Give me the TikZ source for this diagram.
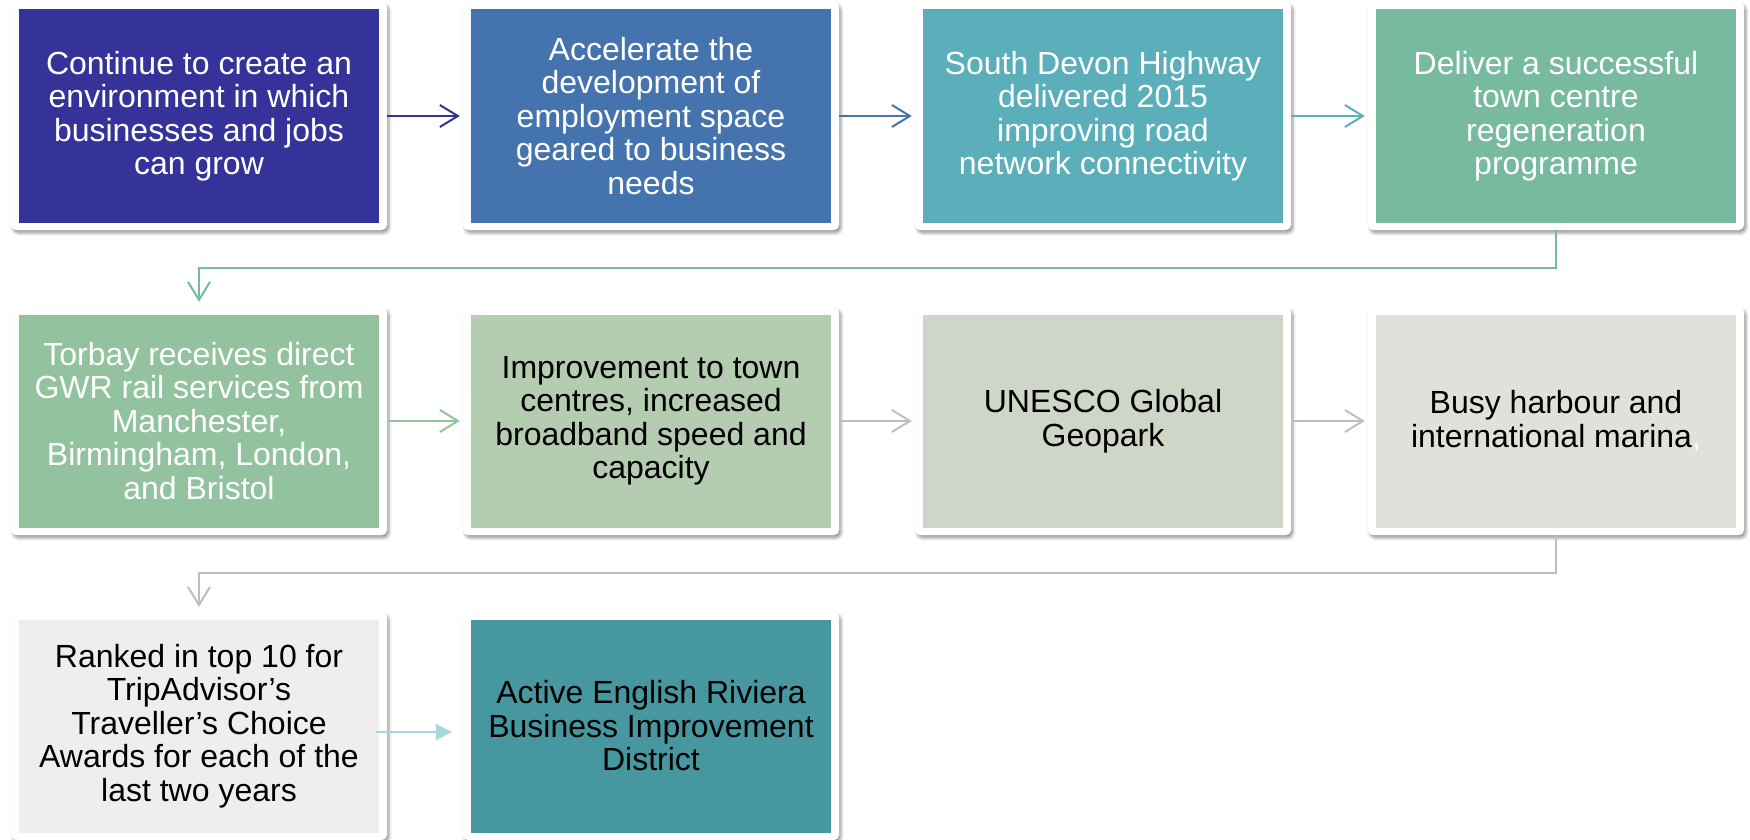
\documentclass[tikz,border=0pt]{standalone}
\usepackage{fontspec}
\setmainfont{Liberation Sans}
\usetikzlibrary{arrows.meta,shadows.blur}

% panel fills
\definecolor{pA}{HTML}{35339A}
\definecolor{pB}{HTML}{4473AE}
\definecolor{pC}{HTML}{5AAFBA}
\definecolor{pD}{HTML}{78BAA0}
\definecolor{pE}{HTML}{93C39E}
\definecolor{pF}{HTML}{B4CCAF}
\definecolor{pG}{HTML}{CFD6C7}
\definecolor{pH}{HTML}{E1E1DB}
\definecolor{pI}{HTML}{EFEEED}
\definecolor{pJ}{HTML}{46979F}
% connector colours
\definecolor{lnGray}{HTML}{BFBFBF}
\definecolor{lnSky}{HTML}{A8D8DE}

\begin{document}
\begin{tikzpicture}[x=1pt,y=-1pt,
  card/.style={fill=white, rounded corners=5pt, minimum width=376pt,
    minimum height=228pt, inner sep=0pt,
    blur shadow={shadow xshift=2pt, shadow yshift=-3pt,
      shadow blur radius=3pt, shadow opacity=40}},
  panel/.style={minimum width=360pt, minimum height=213pt, inner sep=0pt,
    align=center, font=\fontsize{32}{33.5}\selectfont},
  link/.style={line width=2pt, shorten >=3pt,
    -{Straight Barb[length=18pt,width=22pt,line width=2pt]}},
  drop/.style={line width=2pt, shorten >=5pt,
    -{Straight Barb[length=18pt,width=22pt,line width=2pt]}},
  solid link/.style={line width=2pt,
    -{Triangle[length=16pt,width=16pt]}}
]
\useasboundingbox (0,0) rectangle (1750,840);

% ---- row 1 ----
\node[card] (f11) at (199,116) {};
\node[panel, fill=pA, text=white] (p11) at (199,116)
  {Continue to create an\\environment in which\\businesses and jobs\\can grow};
\node[card] (f12) at (651,116) {};
\node[panel, fill=pB, text=white] (p12) at (651,116)
  {Accelerate the\\development of\\employment space\\geared to business\\needs};
\node[card] (f13) at (1103,116) {};
\node[panel, fill=pC, text=white] (p13) at (1103,116)
  {South Devon Highway\\delivered 2015\\improving road\\network connectivity};
\node[card] (f14) at (1556,116) {};
\node[panel, fill=pD, text=white] (p14) at (1556,116)
  {Deliver a successful\\town centre\\regeneration\\programme};

% ---- row 2 ----
\node[card] (f21) at (199,421) {};
\node[panel, fill=pE, text=white] (p21) at (199,421)
  {Torbay receives direct\\GWR rail services from\\Manchester,\\Birmingham, London,\\and Bristol};
\node[card] (f22) at (651,421) {};
\node[panel, fill=pF, text=black] (p22) at (651,421)
  {Improvement to town\\centres, increased\\broadband speed and\\capacity};
\node[card] (f23) at (1103,421) {};
\node[panel, fill=pG, text=black] (p23) at (1103,421)
  {UNESCO Global\\Geopark};
\node[card] (f24) at (1556,421) {};
\node[panel, fill=pH, text=black] (p24) at (1556,421)
  {Busy harbour and\\international marina\textcolor{white}{,}};

% ---- row 3 ----
\node[card] (f31) at (199,726) {};
\node[panel, fill=pI, text=black] (p31) at (199,726)
  {Ranked in top 10 for\\TripAdvisor’s\\Traveller’s Choice\\Awards for each of the\\last two years};
\node[card] (f32) at (651,726) {};
\node[panel, fill=pJ, text=black] (p32) at (651,726)
  {Active English Riviera\\Business Improvement\\District};

% ---- connectors ----
\draw[link, pA] (f11) -- (f12);
\draw[link, pB] (f12) -- (f13);
\draw[link, pC] (f13) -- (f14);
\draw[drop, pD] (f14.south) -- ++(0,38) -| (f21.north);
\draw[link, pE] (f21) -- (f22);
\draw[link, lnGray] (f22) -- (f23);
\draw[link, lnGray] (f23) -- (f24);
\draw[drop, lnGray] (f24.south) -- ++(0,38) -| (f31.north);
\draw[solid link, lnSky] ([shift={(-11,6)}]f31.east) -- ([shift={(-11,6)}]f32.west);
\end{tikzpicture}
\end{document}
